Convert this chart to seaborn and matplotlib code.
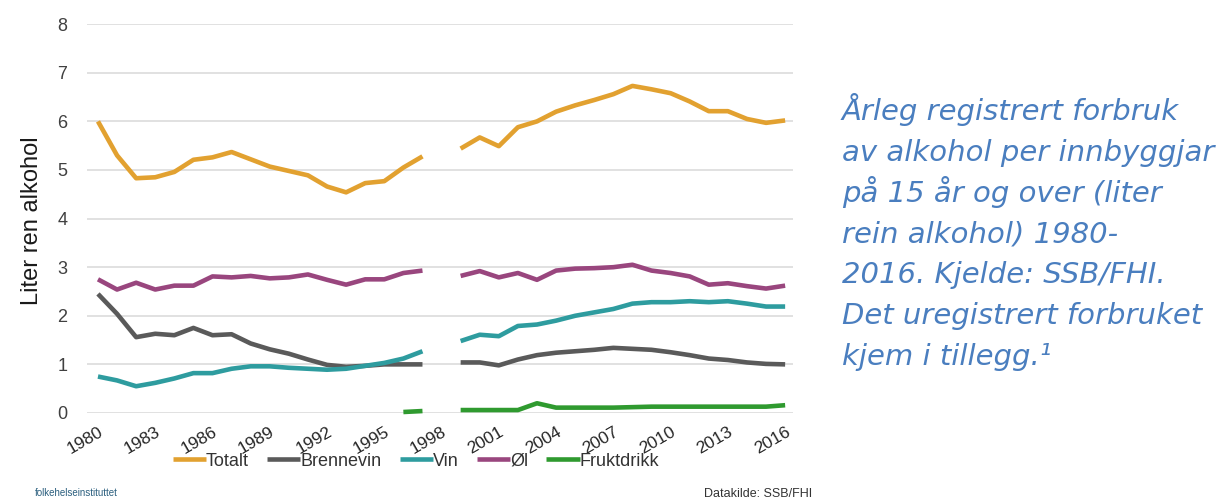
"""
Registrert alkoholforbruk per innbygger 15 år og over, 1980-2016 (SSB/FHI).
"""

import numpy as np
import pandas as pd
import seaborn as sns
import matplotlib.pyplot as plt

nan = np.nan

# Data (liter ren alkohol), 1998 mangler
years = list(range(1980, 2017))
totalt = [6.0, 5.3, 4.83, 4.85, 4.96, 5.21, 5.26, 5.37, 5.22, 5.07, 4.98, 4.89, 4.66, 4.54, 4.73, 4.77, 5.05, 5.28,
          nan,
          5.44, 5.67, 5.49, 5.88, 6.0, 6.2, 6.33, 6.44, 6.56, 6.73, 6.66, 6.58, 6.41, 6.21, 6.21, 6.05, 5.97, 6.02]
brennevin = [2.45, 2.04, 1.56, 1.63, 1.6, 1.75, 1.6, 1.62, 1.43, 1.31, 1.22, 1.1, 0.99, 0.95, 0.97, 1.0, 1.0, 1.0,
             nan,
             1.04, 1.04, 0.98, 1.1, 1.19, 1.24, 1.27, 1.3, 1.34, 1.32, 1.3, 1.25, 1.19, 1.12, 1.09, 1.04, 1.01, 1.0]
vin = [0.75, 0.67, 0.55, 0.62, 0.71, 0.82, 0.82, 0.91, 0.96, 0.96, 0.93, 0.91, 0.89, 0.91, 0.97, 1.03, 1.12, 1.27,
       nan,
       1.48, 1.61, 1.58, 1.79, 1.82, 1.9, 2.0, 2.07, 2.14, 2.25, 2.28, 2.28, 2.3, 2.28, 2.3, 2.25, 2.19, 2.19]
ol = [2.75, 2.54, 2.68, 2.54, 2.62, 2.62, 2.81, 2.79, 2.82, 2.77, 2.79, 2.85, 2.74, 2.64, 2.75, 2.75, 2.88, 2.93,
      nan,
      2.82, 2.92, 2.79, 2.88, 2.74, 2.93, 2.97, 2.98, 3.0, 3.05, 2.93, 2.88, 2.81, 2.64, 2.67, 2.61, 2.56, 2.62]
fruktdrikk = [nan] * 16 + [0.02, 0.04,
                           nan,
                           0.06, 0.06, 0.06, 0.06, 0.2, 0.11, 0.11, 0.11, 0.11, 0.12,
                           0.13, 0.13, 0.13, 0.13, 0.13, 0.13, 0.13, 0.16]

series_names = ['Totalt', 'Brennevin', 'Vin', 'Øl', 'Fruktdrikk']
series_values = [totalt, brennevin, vin, ol, fruktdrikk]
colors = ['#e2a130', '#5a5a5a', '#2e9c9f', '#99467e', '#2f9a2f']
xtick_years = list(range(1980, 2017, 3))

caption_lines = ['Årleg registrert forbruk',
                 'av alkohol per innbyggjar',
                 'på 15 år og over (liter',
                 'rein alkohol) 1980-',
                 '2016. Kjelde: SSB/FHI.',
                 'Det uregistrert forbruket',
                 'kjem i tillegg.¹']

# Long format, with a period column so the line breaks at 1998
rows = []
for name, vals in zip(series_names, series_values):
    for year, v in zip(years, vals):
        rows.append({'year': year, 'serie': name, 'liter': v, 'period': 0 if year < 1998 else 1})
df = pd.DataFrame(rows).dropna()

sns.set_theme(style='white')
plt.rcParams['font.family'] = ['Liberation Sans', 'DejaVu Sans']

fig = plt.figure(figsize=(12.24, 5.04), dpi=100)
ax = fig.add_axes([0.071, 0.1806, 0.577, 0.7714])

sns.lineplot(data=df, x='year', y='liter', hue='serie', hue_order=series_names, units='period',
             estimator=None, palette=colors, linewidth=3.3, ax=ax)

ax.set_xlim(1979.42, 2016.42)
ax.set_ylim(0, 8)
for line in ax.get_lines():
    line.set_clip_on(False)
    line.set_solid_capstyle('butt')

ax.set_yticks(range(0, 9))
ax.yaxis.grid(True, color='#d9d9d9', linewidth=1.1)
ax.set_axisbelow(True)
ax.set_xticks(xtick_years)
ax.set_xticklabels([str(y) for y in xtick_years], rotation=30, ha='right', rotation_mode='anchor')
ax.tick_params(axis='x', labelsize=12.5, labelcolor='#262626', pad=8, length=0)
ax.tick_params(axis='y', labelsize=13, labelcolor='#404040', pad=14, length=0)
for spine in ax.spines.values():
    spine.set_visible(False)

ax.set_xlabel('')
ax.set_ylabel('')
fig.text(32 / 1224, 1 - 221 / 504, 'Liter ren alkohol', rotation=90, ha='center', va='center',
         fontsize=17, color='#1a1a1a')

# Legend below the plot
handles, labels = ax.get_legend_handles_labels()
ax.get_legend().remove()
leg = fig.legend(handles, labels, loc='center', bbox_to_anchor=(416 / 1224, 1 - 461 / 504), ncol=5,
                 frameon=False, fontsize=13, handlelength=1.85, handletextpad=0.0, columnspacing=1.0)
for txt in leg.get_texts():
    txt.set_color('#333333')
for h in leg.legend_handles:
    h.set_linewidth(3.3)

# Caption on the right
for i, line in enumerate(caption_lines):
    fig.text(842 / 1224, 1 - (120 + 40.8 * i) / 504, line, ha='left', va='baseline', fontsize=21,
             style='italic', color='#4a7ebf', family=['DejaVu Sans'])

fig.text(35 / 1224, 1 - 493 / 504, 'folkehelseinstituttet', ha='left', va='center', fontsize=7,
         color='#2b5f7e')
fig.text(812 / 1224, 1 - 494 / 504, 'Datakilde: SSB/FHI', ha='right', va='center', fontsize=9,
         color='#333333')

plt.savefig('out.png', dpi=100)
